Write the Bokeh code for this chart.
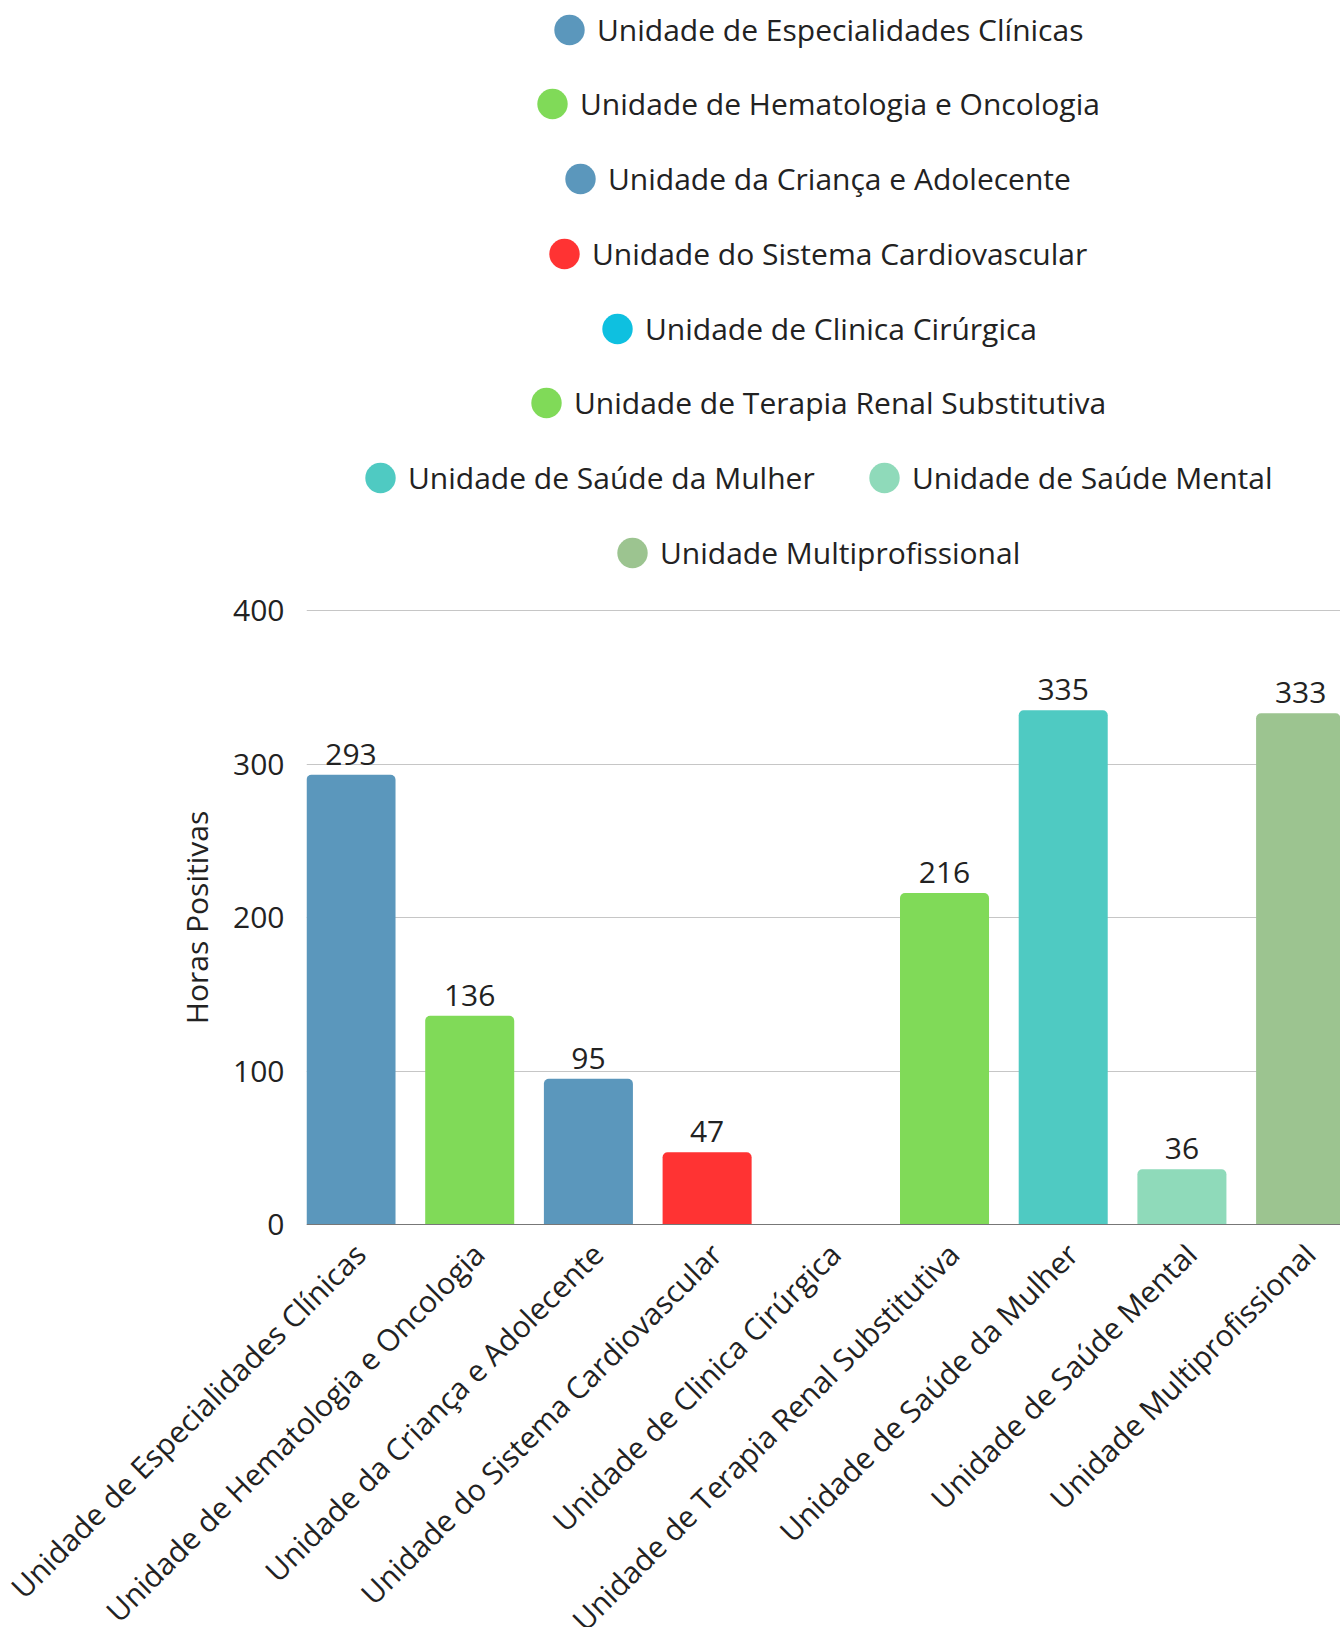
import math
from bokeh.plotting import figure
from bokeh.layouts import column
from bokeh.models import ColumnDataSource, Range1d, FixedTicker, LabelSet, Legend, LegendItem, Span
from bokeh.core.properties import value
from bokeh.embed import file_html
from bokeh.resources import INLINE

# ---- data ----
categories = [
    "Unidade de Especialidades Clínicas",
    "Unidade de Hematologia e Oncologia",
    "Unidade da Criança e Adolecente",
    "Unidade do Sistema Cardiovascular",
    "Unidade de Clinica Cirúrgica",
    "Unidade de Terapia Renal Substitutiva",
    "Unidade de Saúde da Mulher",
    "Unidade de Saúde Mental",
    "Unidade Multiprofissional",
]
values = [293, 136, 95, 47, 0, 216, 335, 36, 333]
y_ticks = [0, 100, 200, 300, 400]
axis_title = "Horas Positivas"

# ---- style ----
colors = ["#5B97BC", "#80DA58", "#5B97BC", "#FF3333", "#0EC0E0",
          "#80DA58", "#4FCAC2", "#8FDABA", "#9CC490"]
FONT = "Open Sans"
TXT = "#222222"
FS = "30px"

positions = list(range(len(categories)))
value_text = [str(v) if v else "" for v in values]

src = ColumnDataSource(dict(x=positions, value=values, color=colors,
                            category=categories, value_text=value_text))
leg_src = ColumnDataSource(dict(x=[float("nan")] * len(positions),
                                y=[float("nan")] * len(positions), color=colors))

W = 1340
LEG_H = 580          # legend strip height
TOP_PAD = 30         # space above the 400 line inside the chart figure
FRAME_L = 306
FRAME_W = W - FRAME_L
PX_PER_100 = 153.5
BELOW_ZERO = 20      # px of frame below the zero line
ABOVE_TOP = 20       # px of frame above the 400 line (keeps axis title centred on 0..400)
FRAME_H = int(round(4 * PX_PER_100 + BELOW_ZERO + ABOVE_TOP))
Y_START = -BELOW_ZERO * 100 / PX_PER_100
Y_END = 400 + ABOVE_TOP * 100 / PX_PER_100
PITCH = 118.7
X0 = -0.375
LBL_H = 1627 - LEG_H - (TOP_PAD - ABOVE_TOP) - FRAME_H

common = dict(output_backend="svg", toolbar_location=None)

def no_align(fig):
    try:
        fig.frame_align = False
    except Exception:
        pass

# ---------------- legend strip ----------------
pl = figure(width=W, height=LEG_H, x_range=Range1d(0, FRAME_W), y_range=Range1d(0, LEG_H),
            x_axis_location=None, y_axis_location=None,
            min_border_left=FRAME_L, min_border_right=0, min_border_top=0, min_border_bottom=0,
            **common)
pl.outline_line_color = None
pl.grid.visible = False
dots = pl.ellipse(x="x", y="y", width=30, height=30, width_units="screen", height_units="screen",
                  source=leg_src, fill_color="color", line_color=None)
GW, GH = 38, 45
legend_cx = [569, 552, 580, 564, 617, 546, 380, 884, 632]
legend_row = [0, 1, 2, 3, 4, 5, 6, 6, 7]
for i, (cx, r) in enumerate(zip(legend_cx, legend_row)):
    cy = 29.1 + 74.73 * r
    lg = Legend(items=[LegendItem(label=categories[i], renderers=[dots], index=i)],
                location=(cx - GW / 2 - FRAME_L, LEG_H - cy - GH / 2), orientation="vertical",
                glyph_width=GW, glyph_height=GH, label_height=GH, padding=0, margin=0, spacing=0,
                label_standoff=9, label_text_font=FONT, label_text_font_size=FS,
                label_text_color=TXT, border_line_color=None, background_fill_alpha=0)
    pl.add_layout(lg)

# ---------------- bar chart ----------------
p = figure(frame_width=FRAME_W, frame_height=FRAME_H,
           x_range=Range1d(X0, X0 + FRAME_W / PITCH), y_range=Range1d(Y_START, Y_END),
           x_axis_location=None,
           min_border_left=FRAME_L, min_border_right=0, min_border_top=TOP_PAD - ABOVE_TOP,
           min_border_bottom=0, **common)
p.outline_line_color = None

p.vbar(x="x", top="value", bottom=0, width=0.75, source=src,
       fill_color="color", line_color=None, border_radius=(5, 5, 0, 0))
p.add_layout(Span(location=0, dimension="width", line_color="#777777", line_width=1))

p.yaxis.ticker = FixedTicker(ticks=y_ticks)
p.yaxis.axis_line_color = None
p.yaxis.major_tick_line_color = None
p.yaxis.minor_tick_line_color = None
p.yaxis.major_tick_out = 0
p.yaxis.major_tick_in = 0
p.yaxis.major_label_standoff = 22
p.yaxis.major_label_text_font = FONT
p.yaxis.major_label_text_font_size = FS
p.yaxis.major_label_text_color = TXT
p.yaxis.axis_label = axis_title
p.yaxis.axis_label_text_font = FONT
p.yaxis.axis_label_text_font_size = FS
p.yaxis.axis_label_text_font_style = "normal"
p.yaxis.axis_label_text_color = TXT
p.yaxis.axis_label_standoff = 13

p.xgrid.grid_line_color = None
p.ygrid.ticker = FixedTicker(ticks=y_ticks[1:])
p.ygrid.grid_line_color = "#c6c6c6"
p.ygrid.grid_line_width = 1

p.add_layout(LabelSet(x="x", y="value", text="value_text", source=src,
                      text_align="center", text_baseline="alphabetic", y_offset=10,
                      text_font=value(FONT), text_font_size=value(FS), text_color=TXT))

# ---------------- rotated category labels ----------------
xs = X0 - FRAME_L / PITCH
pb = figure(width=W, height=LBL_H, x_range=Range1d(xs, xs + W / PITCH), y_range=Range1d(-LBL_H, 0),
            x_axis_location=None, y_axis_location=None,
            min_border_left=0, min_border_right=0, min_border_top=0, min_border_bottom=0,
            **common)
no_align(pb)
pb.outline_line_color = None
pb.grid.visible = False
pb.text(x="x", y=-4 - (20 - BELOW_ZERO), text="category", source=src, angle=math.pi / 4,
        text_align="right", text_baseline="middle", x_offset=9,
        text_font=value(FONT), text_font_size=value(FS), text_color=TXT)

layout = column(pl, p, column(pb), spacing=0)
open("out.html", "w").write(file_html(layout, INLINE))
